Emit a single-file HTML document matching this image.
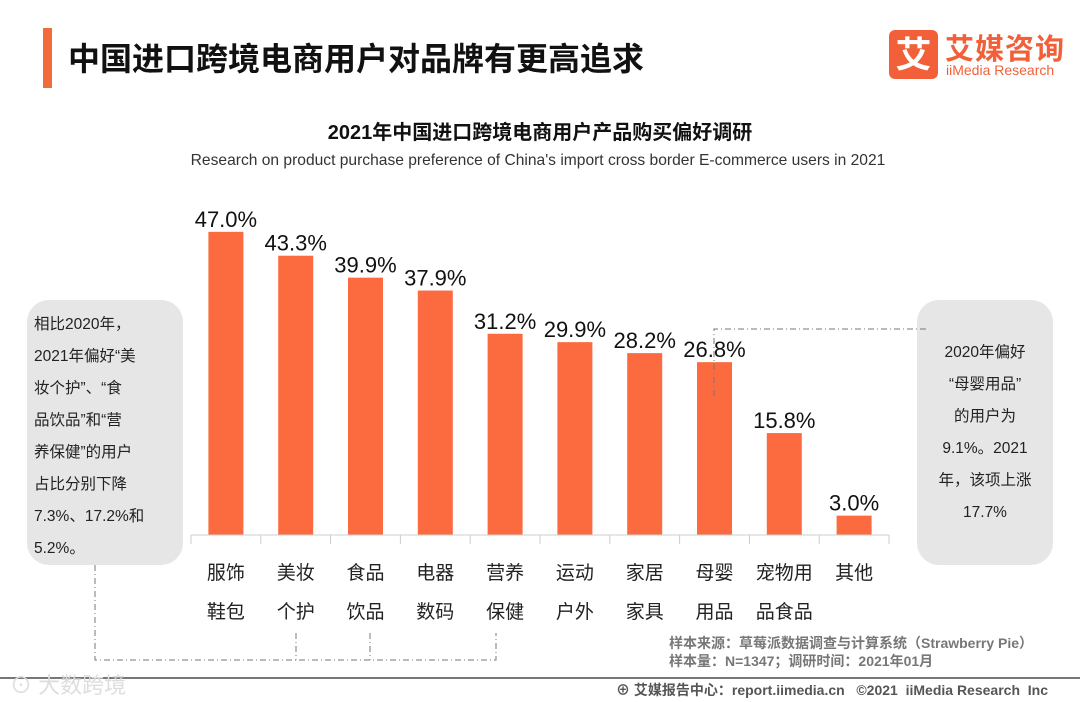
<!DOCTYPE html>
<html><head><meta charset="utf-8"><style>
body{margin:0;width:1080px;height:702px;background:#fff;position:relative;overflow:hidden;font-family:"Liberation Sans","Noto Sans CJK SC",sans-serif;color:#222}
.a{position:absolute}
.box{position:absolute;background:#e6e6e6;border-radius:22px;font-size:15.5px;line-height:32px;color:#222}
</style></head><body>
<div class="a" style="left:43px;top:28px;width:9px;height:60px;background:#f26b3a"></div>
<div class="a" style="left:68px;top:34px;font-size:32px;font-weight:bold;color:#111">中国进口跨境电商用户对品牌有更高追求</div>
<div class="a" style="left:889px;top:30px;width:49px;height:49px;background:#f2603a;border-radius:6px;color:#fff;font-size:36px;font-weight:bold;text-align:center;line-height:49px">艾</div>
<div class="a" style="left:945px;top:26px;font-size:29px;font-weight:bold;color:#f2603a;letter-spacing:1px">艾媒咨询</div>
<div class="a" style="left:946px;top:62px;font-size:14px;color:#f2603a">iiMedia Research</div>
<div class="a" style="left:0;width:1080px;top:116px;text-align:center;font-size:20px;font-weight:bold;color:#111">2021年中国进口跨境电商用户产品购买偏好调研</div>
<div class="a" style="left:0;width:1076px;top:152px;text-align:center;font-size:15.6px;color:#333">Research on product purchase preference of China's import cross border E-commerce users in 2021</div>
<div class="box" style="left:27px;top:300px;width:156px;height:265px;padding:9px 0 0 7px;box-sizing:border-box">相比2020年，<br>2021年偏好“美<br>妆个护”、“食<br>品饮品”和“营<br>养保健”的用户<br>占比分别下降<br>7.3%、17.2%和<br>5.2%。</div>
<div class="box" style="left:917px;top:300px;width:136px;height:265px;padding:37px 0 0 0;box-sizing:border-box;text-align:center">2020年偏好<br>“母婴用品”<br>的用户为<br>9.1%。2021<br>年，该项上涨<br>17.7%</div>
<svg class="a" style="left:0;top:0" width="1080" height="702">
<g id="g"></g>
<g stroke="#777" stroke-width="1" stroke-dasharray="6,3,1,3" fill="none">
<polyline points="95,565 95,660 496,660 496,633"/>
<line x1="296" y1="633" x2="296" y2="660"/>
<line x1="370" y1="633" x2="370" y2="660"/>
<polyline points="714,396 714,329 928,329"/>
</g>
<line x1="0" y1="678" x2="1080" y2="678" stroke="#777" stroke-width="2"/>
</svg>
<div class="a" style="left:10px;top:668px;font-size:22px;color:#ddd">⊙ 大数跨境</div>
<div class="a" style="left:669px;top:634px;font-size:14px;line-height:18px;color:#777;font-weight:bold">样本来源：草莓派数据调查与计算系统（Strawberry Pie）<br>样本量：N=1347；调研时间：2021年01月</div>
<div class="a" style="left:616px;top:680px;font-size:14px;color:#555;font-weight:bold;white-space:pre">⊕ 艾媒报告中心：report.iimedia.cn   ©2021  iiMedia Research  Inc</div>
<script>
const categories=[["服饰","鞋包"],["美妆","个护"],["食品","饮品"],["电器","数码"],["营养","保健"],["运动","户外"],["家居","家具"],["母婴","用品"],["宠物用","品食品"],["其他",""]];
const values=[47.0,43.3,39.9,37.9,31.2,29.9,28.2,26.8,15.8,3.0];
const x0=191,band=69.8,base=535,pxPer=6.45,bw=35;
const xc=i=>x0+band*(i+0.5), y=v=>base-v*pxPer;
const g=document.getElementById('g'),NS='http://www.w3.org/2000/svg';
function mk(t,a){const e=document.createElementNS(NS,t);for(const k in a)e.setAttribute(k,a[k]);g.appendChild(e);return e;}
values.forEach((v,i)=>{
 const r=mk('rect',{x:xc(i)-bw/2,y:y(v),width:bw,height:base-y(v),fill:'#fb6b3f'});
 
 
 const t=mk('text',{x:xc(i),y:y(v)-5,'text-anchor':'middle','font-size':22,fill:'#111'});t.textContent=v.toFixed(1)+'%';
 
 
 categories[i].forEach((c,j)=>{const l=mk('text',{x:xc(i),y:579+j*39,'text-anchor':'middle','font-size':19,fill:'#222'});l.textContent=c;
 
 });
});
const ax=mk('line',{x1:x0,y1:base,x2:x0+band*10,y2:base,stroke:'#ccc'});


for(let i=0;i<=10;i++){const tk=mk('line',{x1:x0+band*i,y1:base,x2:x0+band*i,y2:base+9,stroke:'#ccc'});

}
</script>
</body></html>
